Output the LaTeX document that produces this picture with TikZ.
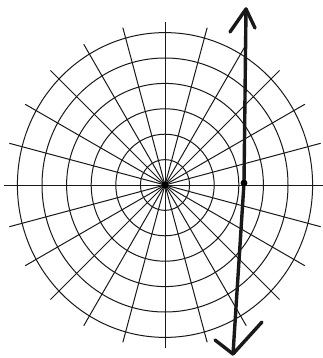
\documentclass[tikz,border=0pt]{standalone}
\begin{document}
\begin{tikzpicture}[x=1pt,y=-1pt,
  gridline/.style={line width=1pt, black!90},
  axisarrow/.style={line width=3.4pt, line cap=round, line join=round, black!90}]
\useasboundingbox[fill=white] (0,0) rectangle (322,358);
\coordinate (O) at (165,185);
\foreach \r in {1,...,6}
  \draw[gridline] (O) ellipse [x radius={24.6*\r}, y radius={25.4*\r}];
\foreach \a in {0,15,...,345}
  \draw[gridline] (O) -- ++(\a:{161+2*sin(\a)*sin(\a)});
\fill (O) circle (3.6pt);
% thick vertical line with open arrow heads
\coordinate (T) at (246,9);
\coordinate (M) at (244,183);
\coordinate (B) at (233,354);
\coordinate (TL) at (230,32);
\coordinate (TR) at (255,28);
\coordinate (BL) at (215,340);
\coordinate (BR) at (262,322);
\draw[axisarrow] (T) -- (M) -- (B);
\draw[axisarrow] (TL) -- (T) -- (TR);
\draw[axisarrow] (BL) -- (B) -- (BR);
\fill (M) circle (3.4pt);
\end{tikzpicture}
\end{document}
